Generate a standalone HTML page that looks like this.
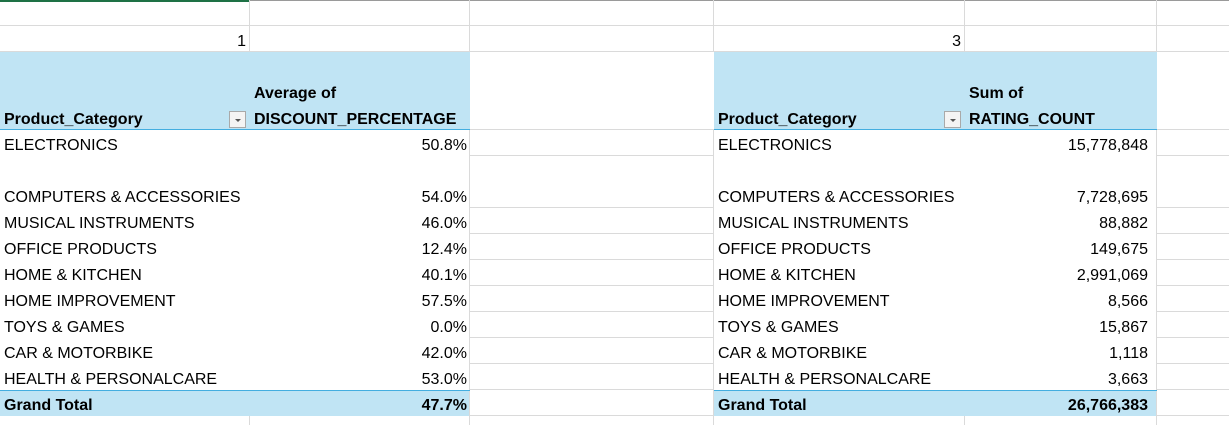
<!DOCTYPE html>
<html><head><meta charset="utf-8"><style>
body{margin:0;width:1229px;height:425px;overflow:hidden;background:#fff;font-family:"Liberation Sans",Arial,sans-serif;font-size:16px;color:#000;position:relative}
.v{position:absolute;left:0;width:1px;background:#dadada}
.h{position:absolute;height:1px;background:#dadada}
.fill{position:absolute;background:#c0e4f4}
.t{position:absolute;white-space:nowrap;line-height:20px}
.r{text-align:right}
.b{font-weight:bold}
.dd{position:absolute;width:17px;height:17px;border:1px solid #a9a9a9;background:#f4f4f4;box-sizing:border-box}
.dd:after{content:"";position:absolute;left:5px;top:7px;border-left:3px solid transparent;border-right:3px solid transparent;border-top:3px solid #555}
</style></head><body>
<script>
const labels=["ELECTRONICS","COMPUTERS & ACCESSORIES","MUSICAL INSTRUMENTS","OFFICE PRODUCTS","HOME & KITCHEN","HOME IMPROVEMENT","TOYS & GAMES","CAR & MOTORBIKE","HEALTH & PERSONALCARE"];
const discounts=["50.8%","54.0%","46.0%","12.4%","40.1%","57.5%","0.0%","42.0%","53.0%"];
const ratings=["15,778,848","7,728,695","88,882","149,675","2,991,069","8,566","15,867","1,118","3,663"];
const rowBottoms=[156,208,234,260,286,312,338,364,390];
const g=document.body;
function add(cls,style,text,name,inter){const e=document.createElement('div');e.className=cls;e.setAttribute('style',style);if(text!==undefined)e.textContent=text;


g.appendChild(e);return e;}
add('fill','left:0;top:52px;width:470px;height:78px','', 'pivot1-header-fill');
add('fill','left:714px;top:52px;width:443px;height:78px','', 'pivot2-header-fill');
add('fill','left:0;top:390px;width:470px;height:26px','', 'pivot1-total-fill');
add('fill','left:714px;top:390px;width:443px;height:26px','', 'pivot2-total-fill');
[26,52].forEach(y=>add('h','left:0;top:'+(y-1)+'px;width:1229px','', 'row-gridline'));
add('h','left:0;top:0;width:1229px;background:#9a9a9a','', 'top-border');
add('h','left:0;top:0;width:250px;background:#1e7145;height:2px','', 'selected-cell-border');
[250,470,714,965,1157].forEach(x=>add('v','left:'+(x-1)+'px;top:0;height:52px','', 'col-gridline'));
[470,714].forEach(x=>add('v','left:'+(x-1)+'px;top:130px;height:295px','', 'col-gridline'));
add('v','left:1156px;top:130px;height:295px','', 'col-gridline');
[156,208,234,260,286,312,338,364,390,416].forEach(y=>{add('h','left:470px;top:'+(y-1)+'px;width:244px','', 'row-gridline');add('h','left:1157px;top:'+(y-1)+'px;width:72px','', 'row-gridline');});
add('h','left:470px;top:129px;width:244px','', 'row-gridline');
add('h','left:1157px;top:129px;width:72px','', 'row-gridline');
add('h','left:1157px;top:51px;width:72px','', 'row-gridline');
[250,470,965].forEach(x=>add('v','left:'+(x-1)+'px;top:416px;height:9px','', 'col-gridline'));
[[0,470],[714,443]].forEach(([x,w])=>{add('h','left:'+x+'px;top:129px;width:'+w+'px;background:#44aee0','', 'header-border');add('h','left:'+x+'px;top:390px;width:'+w+'px;background:#44aee0','', 'total-border');});
add('t r','left:0;width:246px;top:32px','1','pivot1-label-1');
add('t r','left:714px;width:247px;top:32px','3','pivot2-label-3');
add('t b','left:4px;top:110px','Product_Category','pivot1-row-header');
add('dd','left:229px;top:111px','', 'pivot1-filter-dropdown',true);
add('t b','left:254px;top:84px','Average of','pivot1-value-header');
add('t b','left:254px;top:110px','DISCOUNT_PERCENTAGE','pivot1-value-header-field');
add('t b','left:718px;top:110px','Product_Category','pivot2-row-header');
add('dd','left:944px;top:111px','', 'pivot2-filter-dropdown',true);
add('t b','left:969px;top:84px','Sum of','pivot2-value-header');
add('t b','left:969px;top:110px','RATING_COUNT','pivot2-value-header-field');
labels.forEach((l,i)=>{const y=rowBottoms[i]-20;
add('t','left:4px;top:'+y+'px',l,'pivot1-category-label');
add('t r','left:250px;width:217px;top:'+y+'px',discounts[i],'pivot1-discount-value');
add('t','left:718px;top:'+y+'px',l,'pivot2-category-label');
add('t r','left:965px;width:183px;top:'+y+'px',ratings[i],'pivot2-rating-value');});
add('t b','left:4px;top:396px','Grand Total','pivot1-grand-total-label');
add('t b r','left:250px;width:217px;top:396px','47.7%','pivot1-grand-total-value');
add('t b','left:718px;top:396px','Grand Total','pivot2-grand-total-label');
add('t b r','left:965px;width:183px;top:396px','26,766,383','pivot2-grand-total-value');
</script>
</body></html>
